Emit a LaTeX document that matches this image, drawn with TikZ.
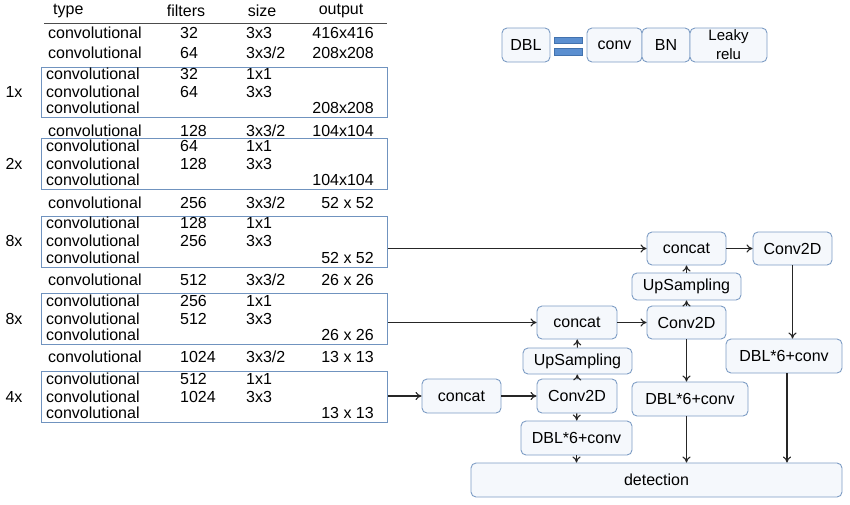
\documentclass[tikz,border=0pt]{standalone}
\usepackage{fontspec}
\setmainfont{Liberation Sans}
\usetikzlibrary{arrows.meta}
\definecolor{bord}{HTML}{7C9CC4}
\definecolor{boxfill}{HTML}{F5F8FC}
\definecolor{grpline}{HTML}{7093BF}
\definecolor{barfill}{HTML}{5B8FD0}
\definecolor{barline}{HTML}{4272AE}
\tikzset{
  blk/.style={draw=bord, fill=boxfill, rounded corners=5pt, line width=0.9pt, font=\fontsize{16}{18}\selectfont, inner sep=0pt},
  txt/.style={font=\fontsize{16}{18}\selectfont, inner sep=0pt},
  grp/.style={draw=grpline, line width=1pt, minimum width=346pt, anchor=north west, inner sep=0pt},
  arr/.style={-{To[length=6pt,width=8pt]}, line width=1.1pt, black!85}
}
\begin{document}
\begin{tikzpicture}[x=1pt,y=-1pt]
\useasboundingbox (0,0) rectangle (850,504);
% header
\node[txt,anchor=west] (hType) at (53,11) {type};
\node[txt] (hFilt) at (186,11) {filters};
\node[txt] (hSize) at (262,11) {size};
\node[txt] (hOut) at (341,11) {output};
\draw[line width=0.8pt, black!70] (44,23) -- (387,23);
% group boxes
\node[grp,minimum height=50pt] (g1) at (41,67) {};
\node[grp,minimum height=51pt] (g2) at (41,138) {};
\node[grp,minimum height=51pt] (g8a) at (41,216) {};
\node[grp,minimum height=51pt] (g8b) at (41,293) {};
\node[grp,minimum height=51pt] (g4) at (41,371) {};
% multipliers
\node[txt] (m1) at (14,92) {1x};
\node[txt] (m2) at (14,164) {2x};
\node[txt] (m3) at (14,241) {8x};
\node[txt] (m4) at (14,319) {8x};
\node[txt] (m5) at (14,397) {4x};
% rows: y, filters, size, output
\foreach \y/\f/\s/\o/\xl in {
  33/32/3x3/416x416/48, 53/64/3x3\slash 2/208x208/48,
  74/32/1x1//46, 92/64/3x3//46, 108///208x208/46,
  131/128/3x3\slash 2/104x104/48,
  146/64/1x1//46, 164/128/3x3//46, 180///104x104/46,
  203/256/3x3\slash 2/52 x 52/48,
  223/128/1x1//46, 241/256/3x3//46, 258///52 x 52/46,
  280/512/3x3\slash 2/26 x 26/48,
  301/256/1x1//46, 319/512/3x3//46, 335///26 x 26/46,
  357/1024/3x3\slash 2/13 x 13/48,
  379/512/1x1//46, 397/1024/3x3//46, 413///13 x 13/46}{
  \node[txt,anchor=west] at (\xl,\y) {convolutional};
  \node[txt,anchor=west] at (180,\y) {\f};
  \node[txt,anchor=west] at (246,\y) {\s};
  \node[txt,anchor=east] at (374,\y) {\o};
}
% legend
\node[blk,minimum width=48pt,minimum height=34pt] (lDBL) at (526,45) {DBL};
\draw[draw=barline, fill=barfill, line width=0.5pt] (554,37) rectangle (582,43);
\draw[draw=barline, fill=barfill, line width=0.5pt] (554,48) rectangle (582,55);
\node[blk,minimum width=55pt,minimum height=34pt] (lconv) at (614.5,45) {conv};
\node[blk,minimum width=48pt,minimum height=34pt] (lBN) at (666,45) {BN};
\node[blk,minimum width=77pt,minimum height=34pt,align=center,font=\fontsize{15}{19}\selectfont] (lLR) at (728.5,45) {Leaky\\relu};
% flow nodes
\node[blk,minimum width=79pt,minimum height=33pt] (cat1) at (686.5,248.5) {concat};
\node[blk,minimum width=79pt,minimum height=33pt] (c2d1) at (792.5,248.5) {Conv2D};
\node[blk,minimum width=109pt,minimum height=27pt] (up1) at (686.5,286.5) {UpSampling};
\node[blk,minimum width=80pt,minimum height=33pt] (cat2) at (577,322.5) {concat};
\node[blk,minimum width=79pt,minimum height=33pt] (c2d2) at (686.5,322.5) {Conv2D};
\node[blk,minimum width=116pt,minimum height=34pt] (dbl1) at (784,356) {DBL*6+conv};
\node[blk,minimum width=109pt,minimum height=26pt] (up2) at (577.5,361) {UpSampling};
\node[blk,minimum width=79pt,minimum height=34pt] (cat3) at (461.5,396) {concat};
\node[blk,minimum width=80pt,minimum height=34pt] (c2d3) at (577,396) {Conv2D};
\node[blk,minimum width=116pt,minimum height=34pt] (dbl2) at (690,399) {DBL*6+conv};
\node[blk,minimum width=111pt,minimum height=34pt] (dbl3) at (576.5,438) {DBL*6+conv};
\node[blk,minimum width=371pt,minimum height=34pt] (det) at (656.5,480) {detection};
% arrows from table
\draw[arr] (g8a.east |- cat1.west) -- (cat1.west);
\draw[arr] (g8b.east |- cat2.west) -- (cat2.west);
\draw[arr] (g4.east |- cat3.west) -- (cat3.west);
% flow arrows
\draw[arr] (cat3) -- (c2d3);
\draw[arr] (c2d3) -- (up2);
\draw[arr] (up2) -- (cat2);
\draw[arr] (c2d3) -- (dbl3);
\draw[arr] (dbl3) -- (dbl3 |- det.north);
\draw[arr] (cat2) -- (c2d2);
\draw[arr] (c2d2) -- (up1);
\draw[arr] (up1) -- (cat1);
\draw[arr] (c2d2.south) -- (c2d2.south |- dbl2.north);
\draw[arr] (dbl2.south -| c2d2.south) -- (c2d2.south |- det.north);
\draw[arr] (cat1) -- (c2d1);
\draw[arr] (c2d1.south) -- (c2d1.south |- dbl1.north);
\draw[arr] ([xshift=3pt]dbl1.south) -- ([xshift=3pt]dbl1.south |- det.north);
\end{tikzpicture}
\end{document}
